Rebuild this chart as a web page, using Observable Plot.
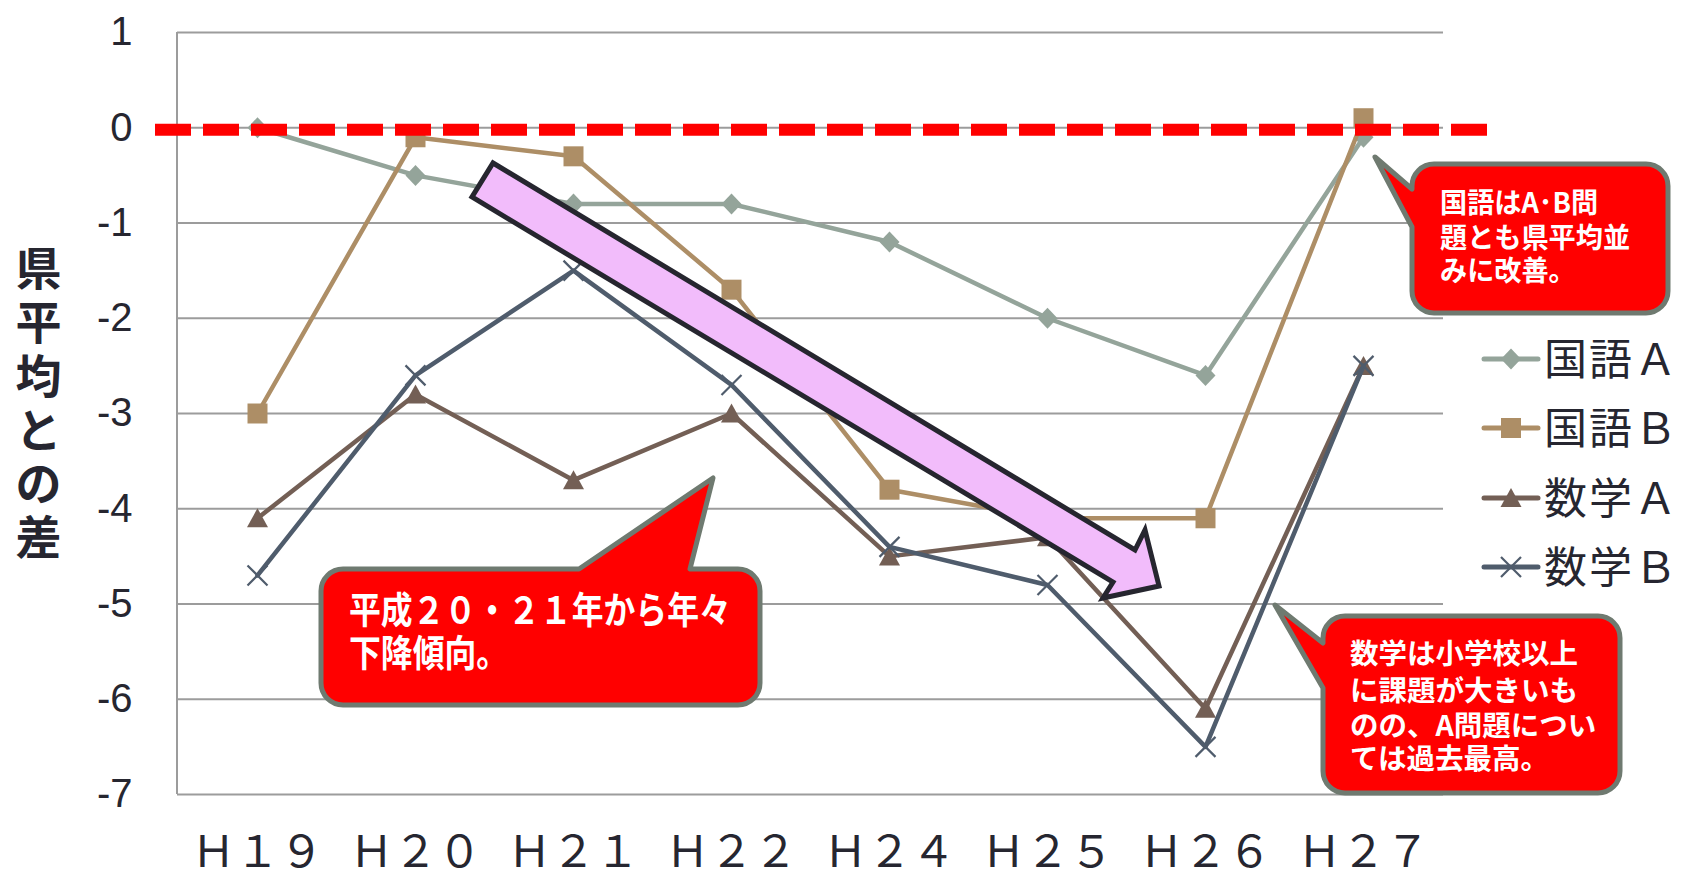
<!DOCTYPE html>
<html><head><meta charset="utf-8">
<script src="https://cdn.jsdelivr.net/npm/d3@7"></script>
<script src="https://cdn.jsdelivr.net/npm/@observablehq/plot@0.6"></script>
<style>
html,body{margin:0;padding:0;background:#fff;}
#chart{position:relative;width:1682px;height:874px;overflow:hidden;}
#chart svg g[aria-label="x-axis tick label"]{font-size:44px;font-family:"Noto Sans CJK JP",sans-serif;fill:#262630;}
#chart svg g[aria-label="y-axis tick label"]{font-size:40px;font-family:"Liberation Sans",Arial,sans-serif;fill:#262630;}
</style></head><body><div id="chart"></div>
<script>
// ---- data ----
const years = ["Ｈ１９","Ｈ２０","Ｈ２１","Ｈ２２","Ｈ２４","Ｈ２５","Ｈ２６","Ｈ２７"];
const seriesNames = ["国語Ａ","国語Ｂ","数学Ａ","数学Ｂ"];
const kokugoA = [0, -0.5, -0.8, -0.8, -1.2, -2.0, -2.6, -0.1];
const kokugoB = [-3.0, -0.1, -0.3, -1.7, -3.8, -4.1, -4.1, 0.1];
const sugakuA = [-4.1, -2.8, -3.7, -3.0, -4.5, -4.3, -6.1, -2.5];
const sugakuB = [-4.7, -2.6, -1.5, -2.7, -4.4, -4.8, -6.5, -2.5];
const yTicks = [1, 0, -1, -2, -3, -4, -5, -6, -7];
const yLabel = "県平均との差";
const note1 = ["平成２０・２１年から年々", "下降傾向。"];
const note2 = ["国語はA･B問", "題とも県平均並", "みに改善。"];
const note3 = ["数学は小学校以上", "に課題が大きいも", "のの、A問題につい", "ては過去最高。"];

// ---- styles ----
const seriesValues = [kokugoA, kokugoB, sugakuA, sugakuB];
const seriesColors = ["#94a49a", "#ad8e66", "#735f55", "#4f5c6c"];
const textColor = "#262630";
const W = 1682, H = 874;

const rows = seriesNames.flatMap((s, i) => years.map((yr, j) => ({series: s, year: yr, value: seriesValues[i][j]})));

const symDiamond = {draw(c){c.moveTo(0,-10.5);c.lineTo(10,0);c.lineTo(0,10.5);c.lineTo(-10,0);c.closePath();}};
const symSquare = {draw(c){c.moveTo(-10,-10);c.lineTo(10,-10);c.lineTo(10,10);c.lineTo(-10,10);c.closePath();}};
const symTriangle = {draw(c){c.moveTo(0,-10);c.lineTo(10.5,9);c.lineTo(-10.5,9);c.closePath();}};
const symCross = {draw(c){c.moveTo(-10,-10);c.lineTo(10,10);c.moveTo(10,-10);c.lineTo(-10,10);}};
const symbols = [symDiamond, symSquare, symTriangle, symCross];

const marks = [
  Plot.ruleY(yTicks, {stroke: "#9c9c9c", strokeWidth: 2}),
  Plot.axisY({ticks: yTicks, tickSize: 0, tickPadding: 45, tickFormat: d => String(d), fontSize: 40, label: null}),
  Plot.axisX({tickSize: 0, tickPadding: 41, fontSize: 44, label: null}),
  Plot.text([yLabel.split("").join("\n")], {text: d => d, frameAnchor: "left", textAnchor: "middle", dx: -139, dy: -11, fontSize: 46, fontWeight: "bold", lineHeight: 1.17, fontFamily: "Noto Sans CJK JP", fill: textColor})
];
seriesNames.forEach((s, i) => {
  const d = rows.filter(r => r.series === s);
  marks.push(Plot.line(d, {x: "year", y: "value", stroke: seriesColors[i], strokeWidth: 4.5}));
  const dotStyle = i === 3 ? {stroke: seriesColors[i], strokeWidth: 2.2, fill: "none"} : {fill: seriesColors[i], stroke: "none"};
  marks.push(Plot.dot(d, {x: "year", y: "value", symbol: symbols[i], r: 6, ...dotStyle}));
});
marks.push(Plot.ruleY([0], {stroke: "#ff0000", strokeWidth: 12, strokeDasharray: "36,12", insetLeft: -22, insetRight: -44, dy: 2}));

const plot = Plot.plot({
  width: W, height: H,
  marginLeft: 177, marginRight: 239, marginTop: 32, marginBottom: 80,
  style: {background: "white", fontFamily: "'Noto Sans CJK JP', sans-serif", overflow: "visible"},
  x: {type: "point", domain: years, padding: 0.5, label: null},
  y: {domain: [-7, 1], label: null},
  marks
});
document.getElementById("chart").appendChild(plot);

const svg = d3.select(plot);
const xs = plot.scale("x"), ys = plot.scale("y");
const xl = xs.range[0];
// left axis line under everything
svg.insert("line", "g").attr("x1", xl).attr("x2", xl).attr("y1", ys.apply(1)).attr("y2", ys.apply(-7))
  .attr("stroke", "#9c9c9c").attr("stroke-width", 2);

const ann = svg.append("g").attr("class", "annotations").attr("text-anchor", "start");

// block arrow
const arrowPts = [[493,163],[1135,550],[1145,530],[1159,586],[1103,598],[1113,582],[472,197]];
ann.append("path").attr("d", "M" + arrowPts.map(p => p.join(",")).join("L") + "Z")
  .attr("fill", "#f2bcfb").attr("stroke", "#26262f").attr("stroke-width", 5).attr("stroke-linejoin", "miter");

function calloutTop(x0, y0, x1, y1, r, b1, b2, tip) {
  return `M${x0+r},${y0}L${b1},${y0}L${tip[0]},${tip[1]}L${b2},${y0}L${x1-r},${y0}` +
    `A${r},${r} 0 0 1 ${x1},${y0+r}L${x1},${y1-r}A${r},${r} 0 0 1 ${x1-r},${y1}` +
    `L${x0+r},${y1}A${r},${r} 0 0 1 ${x0},${y1-r}L${x0},${y0+r}A${r},${r} 0 0 1 ${x0+r},${y0}Z`;
}
function calloutLeft(x0, y0, x1, y1, r, b1, b2, tip) {
  return `M${x0+r},${y0}L${x1-r},${y0}A${r},${r} 0 0 1 ${x1},${y0+r}L${x1},${y1-r}` +
    `A${r},${r} 0 0 1 ${x1-r},${y1}L${x0+r},${y1}A${r},${r} 0 0 1 ${x0},${y1-r}` +
    `L${x0},${b2}L${tip[0]},${tip[1]}L${x0},${b1}L${x0},${y0+r}A${r},${r} 0 0 1 ${x0+r},${y0}Z`;
}
function drawCallout(d, lines, tx, baselines, fs, sx) {
  ann.append("path").attr("d", d).attr("fill", "#ff0000").attr("stroke", "#6f7a70").attr("stroke-width", 5).attr("stroke-linejoin", "round");
  const g = ann.append("g").attr("transform", `translate(${tx},0) scale(${sx},1)`);
  lines.forEach((t, k) => {
    g.append("text").attr("x", 0).attr("y", baselines[k]).text(t)
      .attr("text-anchor", "start")
      .attr("fill", "#ffffff").attr("font-size", fs).attr("font-weight", "bold")
      .attr("font-family", "'Noto Sans CJK JP', sans-serif");
  });
}
drawCallout(calloutTop(321, 569, 760, 705, 22, 579, 690, [713, 478]), note1, 349, [624, 667], 37, 0.86);
drawCallout(calloutLeft(1412, 164, 1668, 313, 22, 189, 227, [1375, 157]), note2, 1440, [213, 248, 281], 28, 0.97);
drawCallout(calloutLeft(1323, 616, 1620, 793, 22, 643, 688, [1275, 605]), note3, 1350, [664, 701, 736, 769], 28.5, 1.0);

// legend
const legendRows = [359, 428, 498, 567];
const lg = svg.append("g").attr("class", "legend").attr("text-anchor", "start");
seriesNames.forEach((s, i) => {
  const y = legendRows[i];
  lg.append("line").attr("x1", 1484).attr("x2", 1538).attr("y1", y).attr("y2", y)
    .attr("stroke", seriesColors[i]).attr("stroke-width", 5).attr("stroke-linecap", "round");
  const p = d3.path(); symbols[i].draw(p);
  const m = lg.append("path").attr("d", p.toString()).attr("transform", `translate(1511,${y})`);
  if (i === 3) m.attr("fill", "none").attr("stroke", seriesColors[i]).attr("stroke-width", 2.2);
  else m.attr("fill", seriesColors[i]);
  lg.append("text").attr("x", 1544).attr("y", y + 16).text(s).attr("text-anchor", "start")
    .attr("letter-spacing", "2px")
    .attr("fill", textColor).attr("font-size", 43).attr("font-family", "'Noto Sans CJK JP', sans-serif");
});
</script>
</body></html>
